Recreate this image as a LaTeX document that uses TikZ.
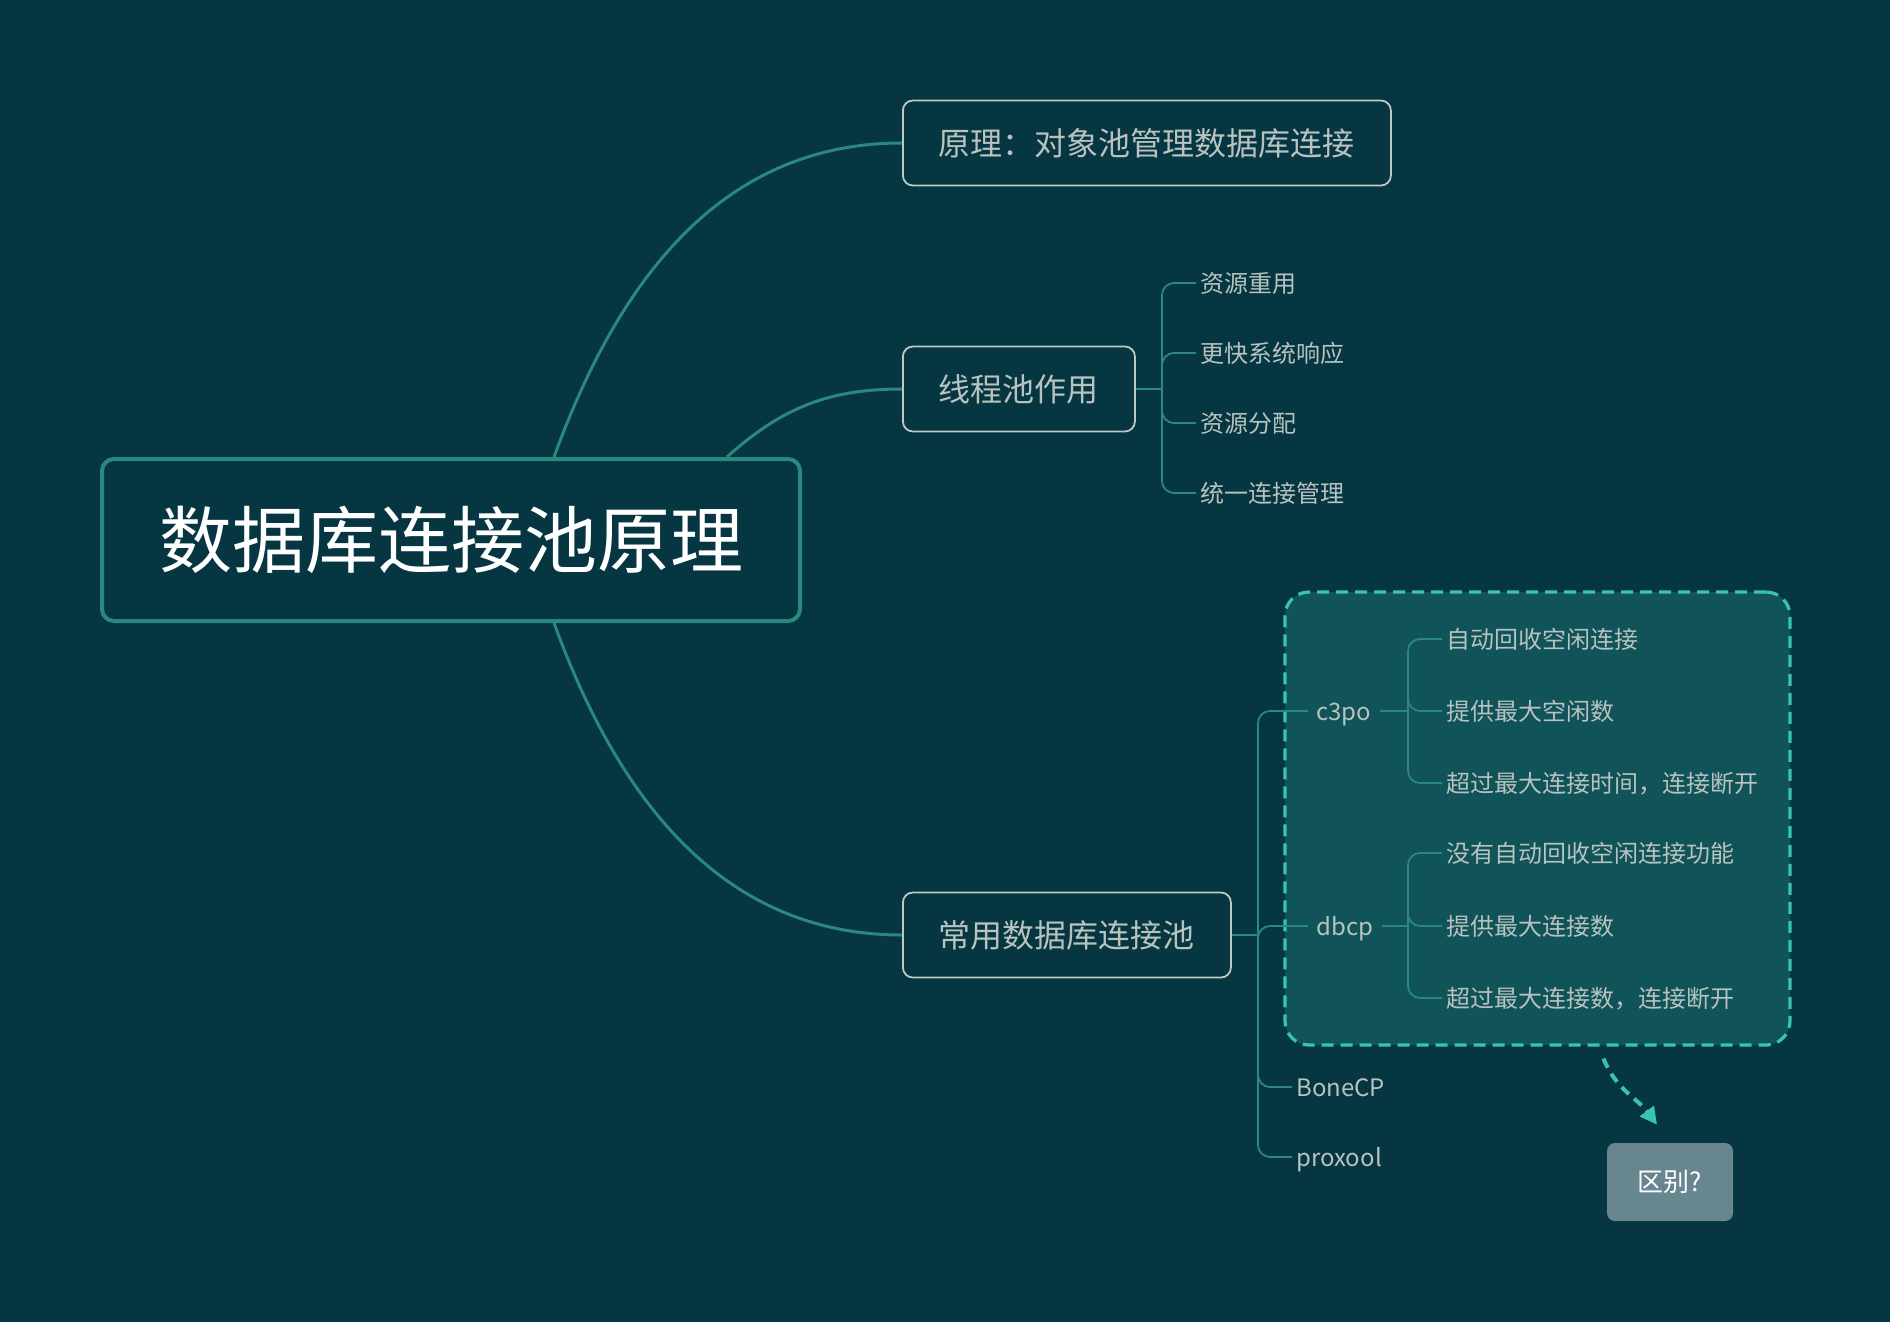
\documentclass[tikz,border=0pt]{standalone}
\usepackage{fontspec}
\setmainfont{Noto Sans CJK SC}
\usetikzlibrary{arrows.meta, positioning, calc}
\definecolor{bgteal}{RGB}{5,54,66}
\definecolor{grpfill}{RGB}{16,83,88}
\definecolor{mint}{RGB}{58,196,176}
\definecolor{branch}{RGB}{42,136,127}
\definecolor{frame}{RGB}{192,200,197}
\definecolor{softtext}{RGB}{184,194,191}
\definecolor{askfill}{RGB}{104,134,143}

\begin{document}
\begin{tikzpicture}[x=0.5pt, y=-0.5pt,
    rootbox/.style={draw=branch, line width=2pt, rounded corners=6pt, minimum width=349pt, minimum height=81pt, text=white, font=\fontsize{36.5}{40}\selectfont},
    topic/.style={draw=frame, line width=0.9pt, rounded corners=5pt, inner xsep=18pt, minimum height=42.5pt, anchor=west, text=softtext, font=\fontsize{16}{19}\selectfont},
    leaf/.style={inner xsep=2pt, anchor=west, text height=1.02em, text depth=0.08em, text=softtext, font=\fontsize{12}{14}\selectfont},
    pool/.style={leaf, inner xsep=4pt},
    trunk/.style={draw=branch, line width=1.5pt},
    twig/.style={draw=branch, line width=0.9pt, rounded corners=6pt},
    grp/.style={draw=mint, fill=grpfill, line width=1.6pt, dash pattern=on 6pt off 3.5pt, rounded corners=12pt, minimum width=252.5pt, minimum height=226.5pt},
    askbox/.style={fill=askfill, rounded corners=4pt, minimum width=63pt, minimum height=39pt, text=white, font=\fontsize{13}{15}\selectfont},
    ask/.style={draw=mint, line width=2pt, dash pattern=on 5pt off 3.5pt, -{Triangle[length=8.5pt, width=8.5pt]}}
]
\fill[bgteal] (0,0) rectangle (1890,1322);
\useasboundingbox (0,0) rectangle (1890,1322);

\node[rootbox] (root) at (451,540) {数据库连接池原理};
\node[topic] (idea) at (902,143) {原理：对象池管理数据库连接};
\node[topic] (role) at (902,389) {线程池作用};
\node[topic] (used) at (902,935) {常用数据库连接池};

\draw[trunk] ($(root.north)+(103,0)$) to[out=70, in=180] (idea.west);
\draw[trunk] ($(root.north)+(276,0)$) to[out=42, in=180] (role.west);
\draw[trunk] ($(root.south)+(103,0)$) to[out=-70, in=180] (used.west);

% thread pool role
\node[leaf] (r1) at (1196,283) {资源重用};
\node[leaf] (r2) at (1196,353) {更快系统响应};
\node[leaf] (r3) at (1196,423) {资源分配};
\node[leaf] (r4) at (1196,493) {统一连接管理};
\coordinate (forkA) at (1162,389);
\draw[twig] (role.east) -- (forkA);
\foreach \n in {r1,r2,r3,r4}
    \draw[twig] (forkA) |- (\n.west);

% common pools
\node[grp] (grp) at (1537.5,818.5) {};
\node[pool] (c3po) at (1308,711) {c3po};
\node[pool] (dbcp) at (1308,926) {dbcp};
\node[leaf] (bone) at (1292,1087) {BoneCP};
\node[leaf] (prox) at (1292,1157) {proxool};
\coordinate (forkB) at (1258,935);
\draw[twig] (used.east) -- (forkB);
\foreach \n in {c3po,dbcp,bone,prox}
    \draw[twig] (forkB) |- (\n.west);

\node[leaf] (c1) at (1442,639) {自动回收空闲连接};
\node[leaf] (c2) at (1442,711) {提供最大空闲数};
\node[leaf] (c3) at (1442,783) {超过最大连接时间，连接断开};
\coordinate (forkC) at (1408,711);
\draw[twig] (c3po.east) -- (forkC);
\foreach \n in {c1,c2,c3}
    \draw[twig] (forkC) |- (\n.west);

\node[leaf] (d1) at (1442,853) {没有自动回收空闲连接功能};
\node[leaf] (d2) at (1442,926) {提供最大连接数};
\node[leaf] (d3) at (1442,998) {超过最大连接数，连接断开};
\coordinate (forkD) at (1408,926);
\draw[twig] (dbcp.east) -- (forkD);
\foreach \n in {d1,d2,d3}
    \draw[twig] (forkD) |- (\n.west);

\node[askbox] (diff) at (1670,1182) {区别?};
\draw[ask] ([xshift=33pt, yshift=-6pt]grp.south) to[out=-68, in=127] ([xshift=-6.5pt, yshift=9pt]diff.north);
\end{tikzpicture}
\end{document}
